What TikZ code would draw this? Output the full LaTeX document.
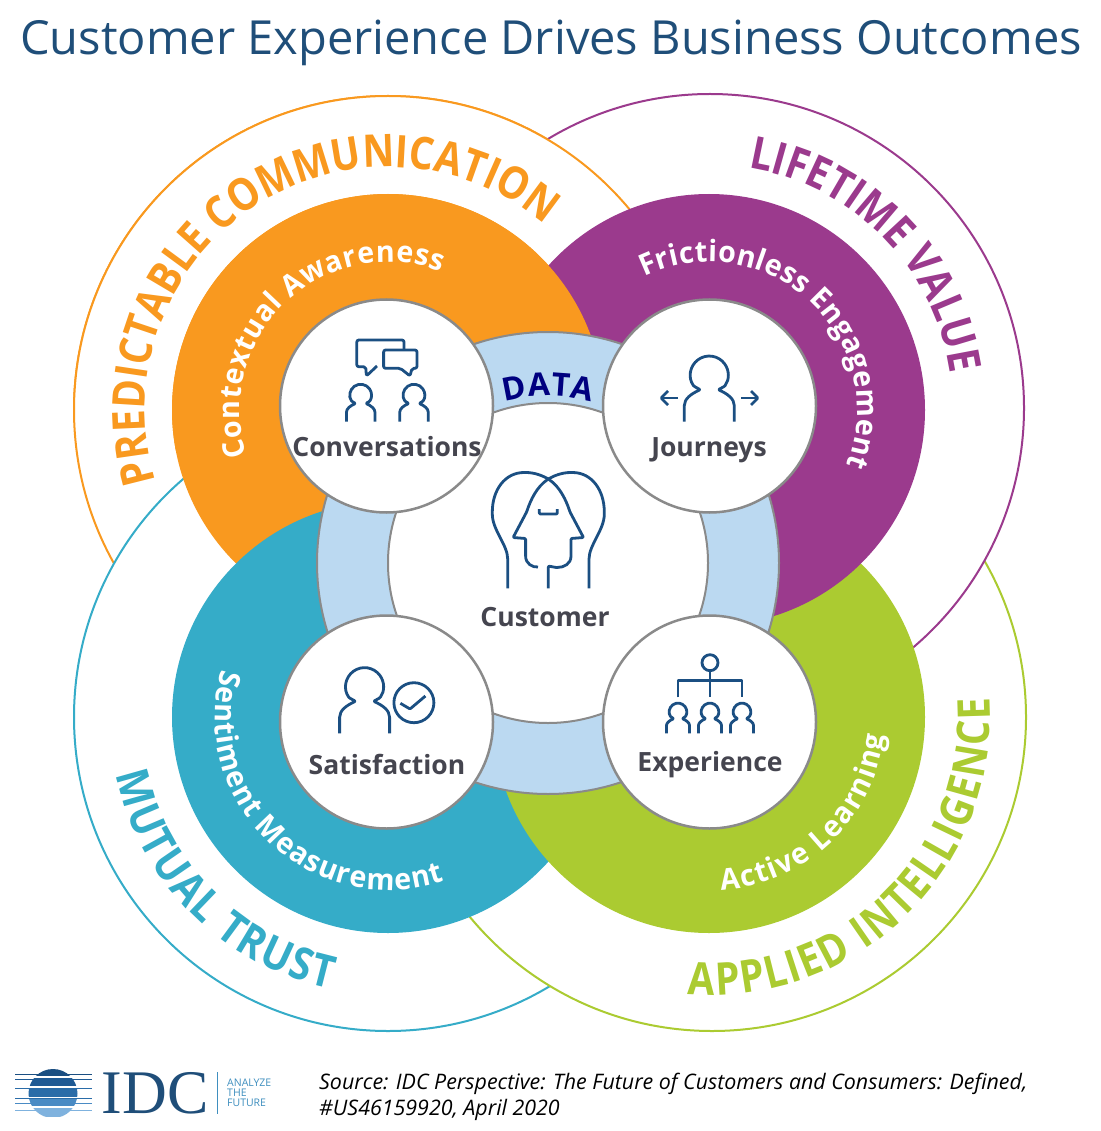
\documentclass[tikz,border=0pt]{standalone}
\usepackage{fontspec}
\setmainfont{Open Sans}
\newfontfamily\idcfont{Liberation Serif}
\newfontfamily\semifont[FakeStretch=.97]{Open Sans}
\newfontfamily\capsfont[FakeStretch=.87]{Open Sans}
\usetikzlibrary{decorations.text}

\definecolor{titleblue}{HTML}{1F4E79}
\definecolor{iconblue}{HTML}{1B4F82}
\definecolor{orangeC}{HTML}{F9991F}
\definecolor{purpleC}{HTML}{9B3A8D}
\definecolor{tealC}{HTML}{35ACC8}
\definecolor{greenC}{HTML}{ABCB31}
\definecolor{ringC}{HTML}{BBD9F1}
\definecolor{hubline}{HTML}{8A8A8A}
\definecolor{labelC}{HTML}{45454F}
\definecolor{dataC}{HTML}{00007F}
\definecolor{tagC}{HTML}{3F8FBF}

\newcommand\outerfont{\capsfont\bfseries\fontsize{45}{50}\selectfont}
\newcommand\innerfont{\semifont\bfseries\fontsize{29.5}{32}\selectfont}
\newcommand\datafont{\bfseries\fontsize{32}{34}\selectfont}

\tikzset{
	hub/.style={circle,draw=hubline,fill=white,line width=2.5pt,minimum size=213pt,inner sep=0pt},
	hublabel/.style={font=\bfseries\fontsize{26.5}{30}\selectfont,text=labelC,inner sep=0pt},
	icon/.style={draw=iconblue,line width=2.8pt,line join=round,rounded corners=1pt},
	bigring/.style={fill=white,line width=2pt},
	curved/.style={decorate,decoration={text along path,text align={fit to path},text=#1}},
	person/.pic={
		\draw[icon] (-25,0) -- (-25,15) .. controls (-25,23) and (-18,28) .. (-9,32) -- (-15.4,35.5)
		arc (216:-36:19) -- (9,32) .. controls (18,28) and (25,23) .. (25,15) -- (25,0);
	}
}

\begin{document}
\begin{tikzpicture}[x=1pt,y=1pt]
	\useasboundingbox (0,0) rectangle (1100,-1131);
	\fill[white] (0,0) rectangle (1100,-1131);
	
	\node[font=\fontsize{47}{52}\selectfont,text=titleblue,inner sep=0pt] (title) at (551,-43) {Customer Experience Drives Business Outcomes};
	
	% outer rings, each one over the next
	\draw[bigring,draw=orangeC] (388,-410) circle (314);
	\draw[bigring,draw=tealC] (388,-717) circle (314);
	\draw[bigring,draw=greenC] (712,-717) circle (314);
	\draw[bigring,draw=purpleC] (710,-408) circle (314);
	\begin{scope}
		\clip (0,-50) rectangle (1100,-400);
		\draw[bigring,draw=orangeC] (388,-410) circle (314);
	\end{scope}
	
	% coloured discs
	\fill[orangeC] (388,-410) circle (216);
	\fill[tealC] (388,-717) circle (216);
	\fill[greenC] (709,-717) circle (216);
	\fill[purpleC] (709,-410) circle (216);
	\begin{scope}
		\clip (0,-50) rectangle (1100,-450);
		\fill[orangeC] (388,-410) circle (216);
	\end{scope}
	
	% data ring
	\draw[fill=ringC,draw=hubline,line width=2pt] (548,-563) circle (231);
	\draw[fill=white,draw=hubline,line width=2pt] (548,-563) circle (160);
	
	\path[curved={|\outerfont\color{orangeC}|PREDICTABLE COMMUNICATION}] (388,-410) ++(197:243) arc (197:50:243);
	\path[curved={|\outerfont\color{purpleC}|LIFETIME VALUE}] (710,-408) ++(81:243) arc (81:9:243);
	\path[curved={|\outerfont\color{tealC}|MUTUAL TRUST}] (388,-717) ++(192:278) arc (192:258:278);
	\path[curved={|\outerfont\color{greenC}|APPLIED INTELLIGENCE}] (712,-717) ++(265:278) arc (265:364:278);
	
	\path[curved={|\innerfont\color{white}|Contextual Awareness}] (388,-410) ++(198:148) arc (198:69:148);
	\path[curved={|\innerfont\color{white}|Frictionless Engagement}] (709,-410) ++(116:148) arc (116:-22:148);
	\path[curved={|\innerfont\color{white}|Sentiment Measurement}] (388,-717) ++(164:173) arc (164:289:173);
	\path[curved={|\innerfont\color{white}|Active Learning}] (712,-717) ++(273:173) arc (273:354:173);
	\path[curved={|\datafont\color{dataC}|DATA}] (548,-563) ++(105:167) arc (105:75:167);
	
	% the four hubs
	\node[hub] (conv) at (386.5,-406) {};
	\node[hub] (jour) at (709.5,-406) {};
	\node[hub] (sati) at (386.5,-722) {};
	\node[hub] (expe) at (709.5,-722) {};
	
	\node[hublabel] (convT) at (387,-447) {Conversations};
	\node[hublabel] (jourT) at (709,-450) {Journeys};
	\node[hublabel] (custT) at (545,-617) {Customer};
	\node[hublabel] (satiT) at (387,-764) {Satisfaction};
	\node[hublabel] (expeT) at (710,-765) {Experience};
	
	% conversations icon
	\draw[icon,rounded corners=2pt] (404,-350) -- (404,-340) -- (356.8,-340) -- (356.8,-366.7) -- (365.7,-366.7) -- (366.4,-376) -- (377,-366);
	\draw[icon,rounded corners=2pt] (383.6,-350) -- (417,-350) -- (417,-368.3) -- (412,-368.3) -- (410,-376) -- (400.4,-368.3) -- (383.6,-368.3) -- cycle;
	\pic[scale=.57] at (360.7,-421.7) {person};
	\pic[scale=.57] at (414,-421.7) {person};
	
	% journeys icon
	\pic at (709.3,-421.7) {person};
	\draw[icon] (678,-398) -- (661,-398);
	\draw[icon] (668,-391) -- (661,-398) -- (668,-405);
	\draw[icon] (741,-398) -- (758,-398);
	\draw[icon] (751,-391) -- (758,-398) -- (751,-405);
	
	% customer icon
	\draw[icon] (507.7,-588.3) -- (507.7,-560) .. controls (507.7,-545) and (492.3,-530) .. (492.3,-513)
	.. controls (492.3,-490) and (505,-472.5) .. (525,-472.5) .. controls (535,-472.5) and (543,-476) .. (548.3,-479)
	.. controls (560,-487) and (566,-500) .. (570,-512) -- (583.5,-537.5) -- (571,-538.5) -- (571,-555)
	.. controls (571,-564) and (564,-567.5) .. (556,-567.5) -- (548.3,-566) -- (548.3,-588.3);
	\draw[icon] (589,-588.3) -- (589,-560) .. controls (589,-545) and (604.3,-530) .. (604.3,-513)
	.. controls (604.3,-490) and (591.6,-472.5) .. (571.6,-472.5) .. controls (561.6,-472.5) and (553.6,-476) .. (548.3,-479)
	.. controls (536.6,-487) and (530.6,-500) .. (526.6,-512) -- (513.1,-537.5) -- (525.6,-538.5) -- (525.6,-555)
	.. controls (525.6,-564) and (532.6,-567.5) .. (538,-567);
	\draw[icon] (539.3,-509) -- (539.3,-514) -- (557.3,-514) -- (557.3,-509);
	
	% satisfaction icon
	\pic at (364.6,-733.3) {person};
	\draw[icon] (413.9,-702.7) circle (20);
	\draw[icon] (400.4,-703.3) -- (410,-709) -- (425.4,-696);
	
	% experience icon
	\draw[icon] (710,-662.7) circle (8);
	\draw[icon] (710,-670.7) -- (710,-697.3);
	\draw[icon,rounded corners=0pt] (678,-697.3) -- (678,-680.7) -- (742,-680.7) -- (742,-697.3);
	\foreach \px in {678,710,742}
	\pic[scale=.46] at (\px,-733.3) {person};
	
	% logo
	\begin{scope}
		\clip (53,-1093.5) circle (24.5);
		\foreach \y/\h/\c in {1069/7/1B4F82,1078/8/1F5A94,1089/8/2A6CA8,1099/7/4A8BC4,1108/9/7FB2DE}{
			\definecolor{bandC}{HTML}{\c}
			\fill[bandC] (20,-\y) rectangle (90,-\y-\h);
		}
	\end{scope}
	\foreach \y/\c in {1074/1B4F82,1079/1F5A94,1088/2A6CA8,1098/2A6CA8,1103/4A8BC4,1110/7FB2DE}{
		\definecolor{bandC}{HTML}{\c}
		\draw[bandC,line width=.9pt] (15,-\y) -- (92,-\y);
	}
	\node[font=\idcfont\fontsize{62}{62}\selectfont,text=titleblue,inner sep=0pt] (idc) at (155,-1093) {IDC};
	\draw[tagC,line width=.8pt] (217.5,-1072) -- (217.5,-1114);
	\node[font=\fontsize{10.5}{10}\selectfont,text=tagC,inner sep=0pt,anchor=west,align=left] (tag) at (227,-1093) {ANALYZE\\THE\\FUTURE};
	
	\node[font=\itshape\fontsize{21.4}{26}\selectfont,text=black,inner sep=0pt,anchor=north west,align=left] (source) at (319,-1073) {Source: IDC Perspective: The Future of Customers and Consumers: Defined,\\\#US46159920, April 2020};
\end{tikzpicture}
\end{document}
